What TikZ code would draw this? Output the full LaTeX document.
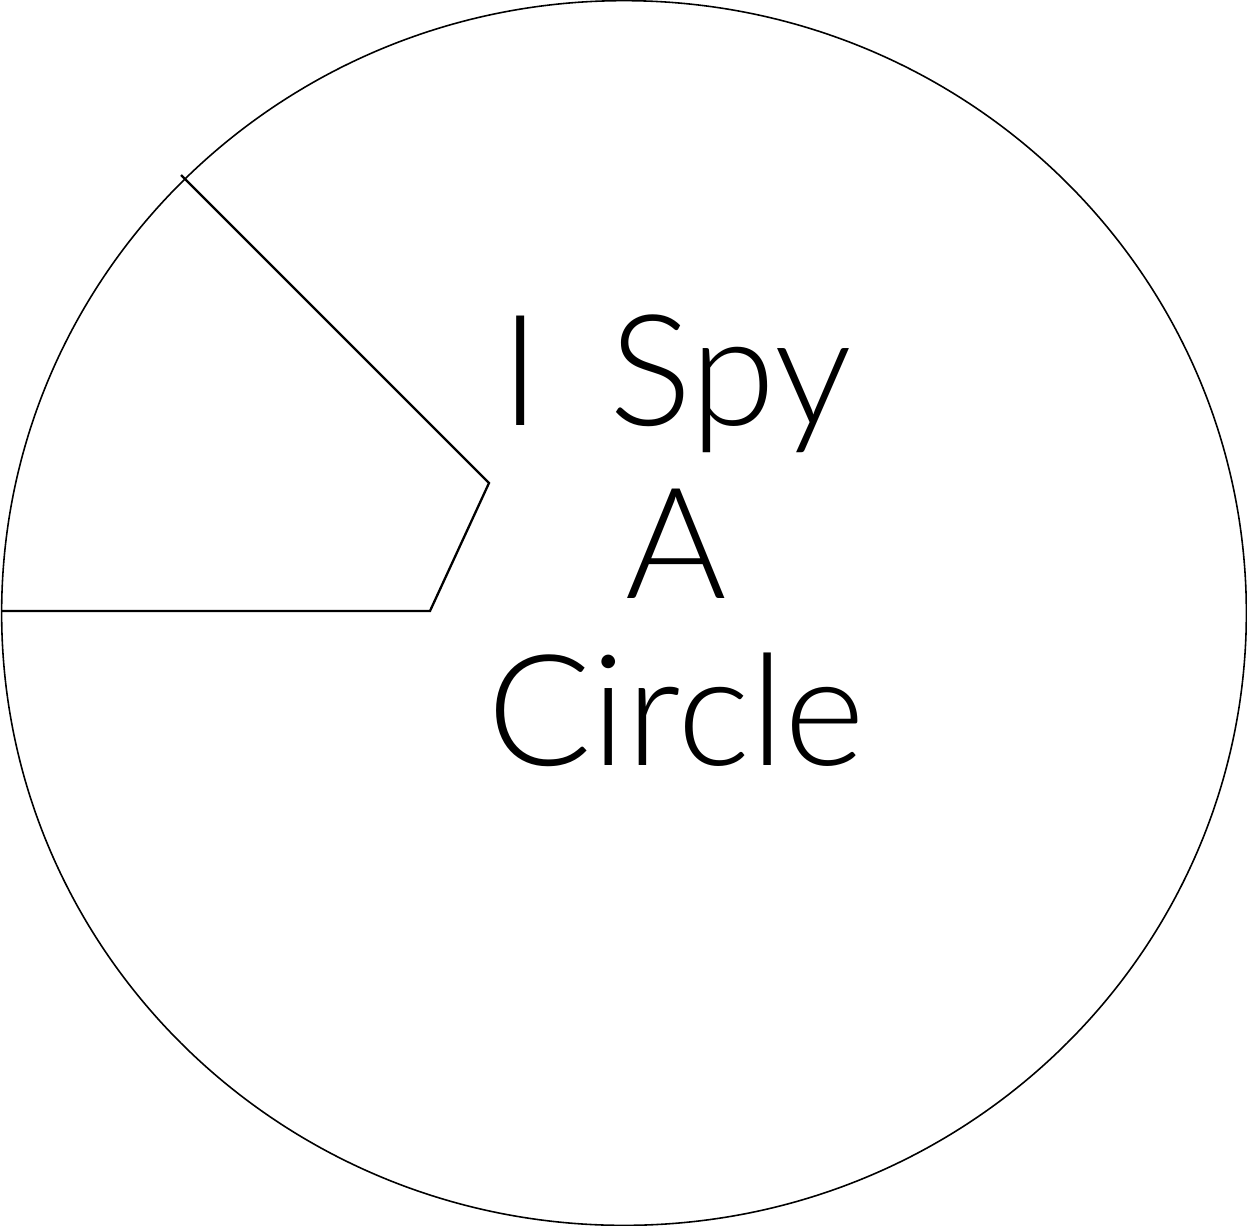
\documentclass[tikz,border=0pt]{standalone}
\usepackage{fontspec}
\setmainfont{Lato Light}
\usetikzlibrary{shapes.geometric}
\begin{document}
\begin{tikzpicture}[x=0.01cm,y=-0.01cm,
  outline/.style={draw=black,line width=0.45pt},
  wedge/.style={draw=black,line width=0.65pt,line join=miter},
  title/.style={font=\fontsize{44}{44}\selectfont,align=center,inner sep=0pt}]
\useasboundingbox (0,0) rectangle (1247,1226);
\node[outline,ellipse,inner sep=0pt,minimum width=12.44cm,minimum height=12.24cm] (disc) at (624,613) {};
\coordinate (p1) at (181,175);
\coordinate (p2) at (489,483);
\coordinate (p3) at (430,611);
\coordinate (p4) at (2,611);
\draw[wedge] (p1) -- (p2) -- (p3) -- (p4);
\node[title,anchor=base] (l1) at (676,425) {I\hspace{0.45em}Spy};
\node[title,anchor=base] (l2) at (676,598) {A};
\node[title,anchor=base] (l3) at (676,765) {Circle};
\end{tikzpicture}
\end{document}
